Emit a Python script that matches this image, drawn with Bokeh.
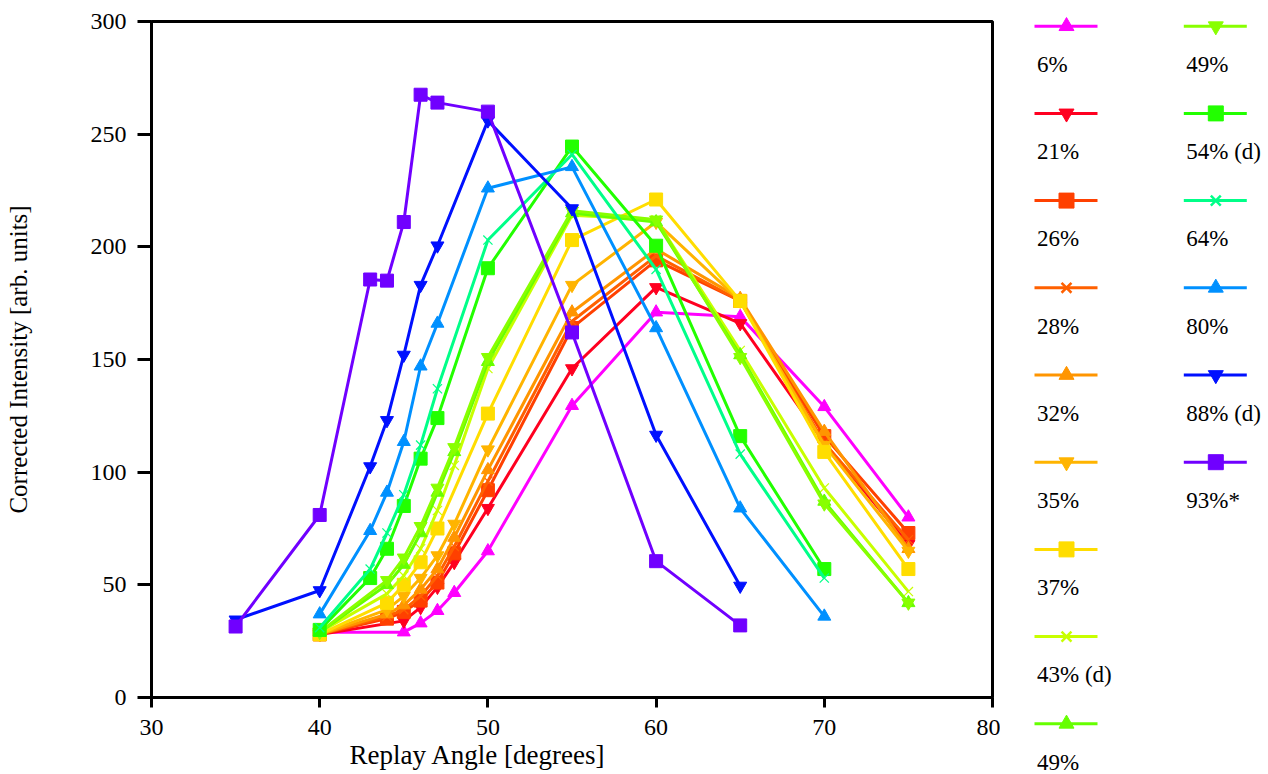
from bokeh.plotting import figure
from bokeh.models import Range1d, FixedTicker, Title
from bokeh.layouts import row
from bokeh.embed import file_html
from bokeh.resources import INLINE
from bokeh.core.properties import value

FONT = "Liberation Serif"

# ---------------- data ----------------
labels = ["6%", "21%", "26%", "28%", "32%", "35%", "37%", "43% (d)", "49%",
          "49%", "54% (d)", "64%", "80%", "88% (d)", "93%*"]
colors = ["#FF00FF", "#FF0020", "#FF4000", "#FF6000", "#FF9500", "#FFB400", "#FFDD00",
          "#C8FF00", "#66FF00", "#88FF00", "#22FF00", "#00FF88", "#0090FF", "#0010FF", "#7000FF"]
markers = ["triangle", "inverted_triangle", "square", "x", "triangle", "inverted_triangle", "square",
           "x", "triangle", "inverted_triangle", "square", "x", "triangle", "inverted_triangle", "square"]

x_a = [40, 45, 46, 47, 48, 50, 55, 60, 65, 70, 75]
x_b = [40, 44, 45, 46, 47, 48, 50, 55, 60, 65, 70, 75]
x_c = [40, 44, 45, 46, 47, 50, 55, 60, 65, 70, 75]
x_d = [40, 43, 44, 45, 46, 47, 50, 55, 60, 65, 70]
x_e = [35, 40, 43, 44, 45, 46, 47, 50, 55, 60, 65]

y_06 = [29, 29, 33, 38.5, 46.5, 65, 129.5, 171, 169, 129, 80]
y_21 = [28, 34, 40, 49, 60, 84, 146, 182, 166, 113, 68]
y_26 = [28, 35, 38, 43, 51, 64, 92, 164, 194, 176, 116, 73]
y_28 = [28, 36, 39, 45, 54, 67, 96, 167, 196, 176, 113, 70]
y_32 = [28, 37, 41, 48, 57, 71, 101, 171, 199, 177, 118, 66]
y_35 = [28, 39, 45, 53, 63, 77, 110, 183, 211, 176, 112, 65]
y_37 = [28, 42, 50, 60, 75, 126, 203, 221, 176, 109, 57]
y_43 = [29, 46, 54, 66, 83, 103, 146, 214, 212, 154, 93, 47]
y_49a = [29, 50, 59, 73, 91, 109, 149, 215, 211, 152, 87, 42]
y_49b = [29, 52, 62, 76, 93, 111, 151, 216, 212, 151, 86, 42]
y_54 = [30, 53, 66, 85, 106, 124, 190.5, 244.5, 200.5, 116, 57]
y_64 = [31, 57, 73, 90, 112, 137, 203, 241, 190, 108, 53]
y_80 = [37, 74, 91, 113.5, 147, 166, 226, 235.5, 164, 84, 36]
y_88 = [34.5, 47.5, 102.5, 123, 152, 183, 200.5, 256, 217, 116.5, 49.5]
y_93 = [31.5, 81, 185.5, 185, 211, 267.5, 264, 260, 162, 60.5, 32]

xs = [x_a, x_a, x_b, x_b, x_b, x_b, x_c, x_b, x_b, x_b, x_d, x_d, x_d, x_e, x_e]
ys = [y_06, y_21, y_26, y_28, y_32, y_35, y_37, y_43, y_49a, y_49b, y_54, y_64, y_80, y_88, y_93]

x_ticks = [30, 40, 50, 60, 70, 80]
y_ticks = [0, 50, 100, 150, 200, 250, 300]

x_title = "Replay Angle [degrees]"
y_title = "Corrected Intensity [arb. units]"

H = 774

# ---------------- main plot ----------------
p = figure(width=1000, height=H, x_range=Range1d(30, 80), y_range=Range1d(0, 300),
           output_backend="svg", toolbar_location=None,
           min_border_left=151, min_border_right=8, min_border_top=21, min_border_bottom=77,
           y_axis_label=y_title)

p.background_fill_color = "white"
p.border_fill_color = "white"
p.grid.grid_line_color = None
p.outline_line_color = "black"
p.outline_line_width = 3

p.xaxis.ticker = FixedTicker(ticks=x_ticks)
p.yaxis.ticker = FixedTicker(ticks=y_ticks)
for ax in (p.xaxis, p.yaxis):
    ax.axis_line_width = 3
    ax.axis_line_color = "black"
    ax.major_tick_line_width = 3
    ax.major_tick_in = 0
    ax.minor_tick_line_color = None
    ax.major_label_text_font = FONT
    ax.major_label_text_font_size = "24px"
    ax.major_label_text_color = "black"
    ax.axis_label_text_font = FONT
    ax.axis_label_text_font_size = "25px"
    ax.axis_label_text_font_style = "normal"
    ax.axis_label_text_color = "black"
p.xaxis.major_tick_out = 10
p.yaxis.major_tick_out = 14
p.xaxis.major_label_standoff = 12
p.yaxis.major_label_standoff = 11
p.yaxis.axis_label_standoff = 56

# x-axis title, placed below the axis (left-aligned with an offset like the reference)
p.add_layout(Title(text=x_title, align="left", offset=198, standoff=1,
                   text_font=FONT, text_font_size="27px", text_font_style="normal",
                   text_color="black"), "below")

for xv, yv, c, m in zip(xs, ys, colors, markers):
    p.line(xv, yv, line_color=c, line_width=3)
    if m == "x":
        p.scatter(xv, yv, marker=m, size=13, line_color=c, line_width=1.2)
    else:
        p.scatter(xv, yv, marker=m, size=13, fill_color=c, line_color=c)

# ---------------- legend panel (y range in page pixels, top = 0) ----------------
LW = 266
lf = figure(width=LW, height=H, x_range=Range1d(0, LW), y_range=Range1d(H, 0),
            output_backend="svg", toolbar_location=None, min_border=0,
            title=None, x_axis_type=None, y_axis_type=None)
lf.grid.grid_line_color = None
lf.outline_line_color = None
lf.background_fill_color = "white"
lf.border_fill_color = "white"

# do not align the legend panel's frame with the main plot's frame
for fig in (p, lf):
    if "frame_align" in fig.properties():
        fig.frame_align = False

rows_per_col = 9
for i, (lab, c, m) in enumerate(zip(labels, colors, markers)):
    col = i // rows_per_col
    r = i % rows_per_col
    x0 = 34 + col * 149.3
    yl = 25.7 + r * 87.2
    yt = 64 + r * 87.2
    lf.segment(x0=[x0], y0=[yl], x1=[x0 + 63], y1=[yl], line_color=c, line_width=3)
    if m == "x":
        lf.scatter([x0 + 32], [yl], marker=m, size=14, line_color=c, line_width=2.5)
    else:
        lf.scatter([x0 + 32], [yl], marker=m, size=15, fill_color=c, line_color=c)
    lf.text([x0 + 2.5], [yt], text=[lab], text_font=value(FONT), text_font_size="23px",
            text_color="black", text_baseline="alphabetic", text_align="left")

layout = row(p, lf)
open("out.html", "w").write(file_html(layout, INLINE))
